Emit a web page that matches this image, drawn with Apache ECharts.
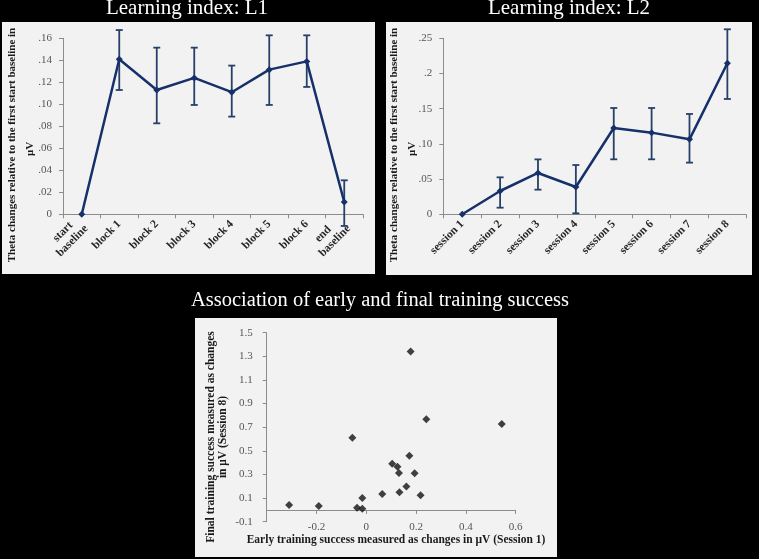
<!doctype html>
<html>
<head>
<meta charset="utf-8">
<title>Learning index</title>
<script src="https://cdn.jsdelivr.net/npm/echarts@6/dist/echarts.min.js"></script>
<style>
  html, body { margin: 0; padding: 0; background: #000; }
  #main { width: 759px; height: 559px; }
</style>
</head>
<body>
<div id="main"></div>
<script type="text/javascript">
// L1: blocks within the first session
var l1Cats = ['start   \nbaseline', 'block 1', 'block 2', 'block 3', 'block 4', 'block 5', 'block 6', 'end     \nbaseline'];
var l1Mean = [0, 0.141, 0.113, 0.124, 0.111, 0.1315, 0.139, 0.0112];
var l1Low = [0, 0.113, 0.0827, 0.0994, 0.0888, 0.0994, 0.1158, -0.0106];
var l1High = [0, 0.1675, 0.1515, 0.1515, 0.1352, 0.1627, 0.1627, 0.0309];
var l1Ticks = ['0', '.02', '.04', '.06', '.08', '.10', '.12', '.14', '.16'];

// L2: sessions
var l2Cats = ['session 1', 'session 2', 'session 3', 'session 4', 'session 5', 'session 6', 'session 7', 'session 8'];
var l2Mean = [0, 0.0331, 0.0587, 0.0388, 0.1226, 0.116, 0.1065, 0.2145];
var l2Low = [0, 0.0094, 0.035, 0.0014, 0.0781, 0.0781, 0.0734, 0.1638];
var l2High = [0, 0.0525, 0.078, 0.070, 0.151, 0.151, 0.1425, 0.2628];
var l2Ticks = ['0', '.05', '.10', '.15', '.2', '.25'];

// early (session 1) vs final (session 8) success
var earlyX = [-0.31, -0.191, -0.056, -0.037, -0.016, -0.016, 0.064, 0.104, 0.125, 0.131, 0.133, 0.161, 0.173, 0.178, 0.194, 0.218, 0.241, 0.544];
var finalY = [0.041, 0.033, 0.611, 0.019, 0.10, 0.01, 0.135, 0.391, 0.366, 0.312, 0.149, 0.197, 0.459, 1.34, 0.31, 0.124, 0.767, 0.727];

var navy = '#16306a';
var barCol = '#27406a';
var axisCol = '#8c8c8c';
var tickTxt = '#555555';
var serif = '"Liberation Serif", "DejaVu Serif", serif';

function pairs(a, b) {
  var out = [];
  for (var i = 0; i < a.length; i++) out.push([a[i], b[i]]);
  return out;
}
function errData(low, high) {
  var out = [];
  for (var i = 0; i < low.length; i++) out.push([i, low[i], high[i]]);
  return out;
}
function errItem(params, api) {
  var lo = api.value(1), hi = api.value(2);
  if (lo === hi) return null;
  var p1 = api.coord([api.value(0), lo]);
  var p2 = api.coord([api.value(0), hi]);
  var w = 3.5;
  var st = { stroke: barCol, lineWidth: 1.8 };
  return {
    type: 'group',
    children: [
      { type: 'line', shape: { x1: p1[0], y1: p1[1], x2: p2[0], y2: p2[1] }, style: st },
      { type: 'line', shape: { x1: p1[0] - w, y1: p1[1], x2: p1[0] + w, y2: p1[1] }, style: st },
      { type: 'line', shape: { x1: p2[0] - w, y1: p2[1], x2: p2[0] + w, y2: p2[1] }, style: st }
    ]
  };
}

function catAxis(idx, cats) {
  return {
    type: 'category', gridIndex: idx, data: cats, boundaryGap: true,
    axisLine: { lineStyle: { color: axisCol, width: 1 } },
    axisTick: { show: true, length: 4, lineStyle: { color: axisCol } },
    axisLabel: { interval: 0, rotate: 45, margin: 8, color: '#262626', fontFamily: serif, fontWeight: 'bold', fontSize: 11.5, lineHeight: 13 }
  };
}
function valAxis(idx, max, step, labels) {
  return {
    type: 'value', gridIndex: idx, min: 0, max: max, interval: step,
    splitLine: { show: false },
    axisLine: { show: true, lineStyle: { color: axisCol } },
    axisTick: { show: true, length: 4, lineStyle: { color: axisCol } },
    axisLabel: {
      color: tickTxt, fontFamily: serif, fontSize: 11, margin: 11,
      formatter: function (v) { return labels[Math.round(v / step)]; }
    }
  };
}

var chart = echarts.init(document.getElementById('main'));
chart.setOption({
  backgroundColor: '#000000',
  animation: false,
  graphic: [
    { type: 'rect', z: -10, shape: { x: 2, y: 22, width: 373, height: 252 }, style: { fill: '#f2f2f2' } },
    { type: 'rect', z: -10, shape: { x: 386, y: 22, width: 366, height: 253 }, style: { fill: '#f2f2f2' } },
    { type: 'rect', z: -10, shape: { x: 195, y: 318, width: 362, height: 239 }, style: { fill: '#f2f2f2' } },
    { type: 'text', x: 187, y: 8, style: { text: 'Learning index: L1', fill: '#fff', font: '21px ' + serif, align: 'center', verticalAlign: 'middle' } },
    { type: 'text', x: 569, y: 8, style: { text: 'Learning index: L2', fill: '#fff', font: '21px ' + serif, align: 'center', verticalAlign: 'middle' } },
    { type: 'text', x: 380, y: 301, style: { text: 'Association of early and final training success', fill: '#fff', font: '20.5px ' + serif, align: 'center', verticalAlign: 'middle' } },
    { type: 'text', x: 12, y: 145, rotation: Math.PI / 2, style: { text: 'Theta changes relative to the first start baseline in', fill: '#1a1a1a', font: 'bold 11px ' + serif, align: 'center', verticalAlign: 'middle' } },
    { type: 'text', x: 30, y: 149, rotation: Math.PI / 2, style: { text: 'μV', fill: '#1a1a1a', font: 'bold 11px ' + serif, align: 'center', verticalAlign: 'middle' } },
    { type: 'text', x: 394, y: 145, rotation: Math.PI / 2, style: { text: 'Theta changes relative to the first start baseline in', fill: '#1a1a1a', font: 'bold 11px ' + serif, align: 'center', verticalAlign: 'middle' } },
    { type: 'text', x: 412, y: 149, rotation: Math.PI / 2, style: { text: 'μV', fill: '#1a1a1a', font: 'bold 11px ' + serif, align: 'center', verticalAlign: 'middle' } },
    { type: 'text', x: 211, y: 437, rotation: Math.PI / 2, style: { text: 'Final training success measured as changes', fill: '#1a1a1a', font: 'bold 11.5px ' + serif, align: 'center', verticalAlign: 'middle' } },
    { type: 'text', x: 223.5, y: 437, rotation: Math.PI / 2, style: { text: 'in μV (Session 8)', fill: '#1a1a1a', font: 'bold 11.5px ' + serif, align: 'center', verticalAlign: 'middle' } },
    { type: 'text', x: 396, y: 540, style: { text: 'Early training success measured as changes in μV (Session 1)', fill: '#1a1a1a', font: 'bold 11.5px ' + serif, align: 'center', verticalAlign: 'middle' } }
  ],
  grid: [
    { left: 63, right: 396, top: 38.3, bottom: 344.7 },
    { left: 443.3, right: 12.7, top: 38.3, bottom: 344.7 },
    { left: 266.7, right: 243.3, top: 332.7, bottom: 37.3 }
  ],
  xAxis: [
    catAxis(0, l1Cats),
    catAxis(1, l2Cats),
    {
      type: 'value', gridIndex: 2, min: -0.4, max: 0.6, interval: 0.2, position: 'bottom',
      splitLine: { show: false },
      axisLine: { show: false, onZero: false },
      axisTick: { show: false },
      axisLabel: {
        showMinLabel: false, color: tickTxt, fontFamily: serif, fontSize: 11, margin: 5, verticalAlign: 'middle',
        formatter: function (v) { return (Math.round(v * 10) / 10).toString(); }
      }
    },
    {
      type: 'value', gridIndex: 2, min: -0.4, max: 0.6, interval: 0.2, position: 'bottom',
      splitLine: { show: false },
      axisLine: { show: true, onZero: true, lineStyle: { color: axisCol } },
      axisTick: { show: true, length: 4, lineStyle: { color: axisCol } },
      axisLabel: { show: false }
    }
  ],
  yAxis: [
    valAxis(0, 0.16, 0.02, l1Ticks),
    valAxis(1, 0.25, 0.05, l2Ticks),
    {
      type: 'value', gridIndex: 2, min: -0.1, max: 1.5, interval: 0.2,
      splitLine: { show: false },
      axisLine: { show: true, onZero: false, lineStyle: { color: axisCol } },
      axisTick: { show: true, length: 4, lineStyle: { color: axisCol } },
      axisLabel: {
        color: tickTxt, fontFamily: serif, fontSize: 11, margin: 14,
        formatter: function (v) { return v.toFixed(1); }
      }
    }
  ],
  series: [
    { type: 'custom', xAxisIndex: 0, yAxisIndex: 0, renderItem: errItem, data: errData(l1Low, l1High), z: 3 },
    {
      type: 'line', xAxisIndex: 0, yAxisIndex: 0, data: l1Mean,
      symbol: 'diamond', symbolSize: 7, itemStyle: { color: navy },
      lineStyle: { color: navy, width: 2.5 }, z: 4
    },
    { type: 'custom', xAxisIndex: 1, yAxisIndex: 1, renderItem: errItem, data: errData(l2Low, l2High), z: 3 },
    {
      type: 'line', xAxisIndex: 1, yAxisIndex: 1, data: l2Mean,
      symbol: 'diamond', symbolSize: 7, itemStyle: { color: navy },
      lineStyle: { color: navy, width: 2.5 }, z: 4
    },
    {
      type: 'scatter', xAxisIndex: 2, yAxisIndex: 2, data: pairs(earlyX, finalY),
      symbol: 'diamond', symbolSize: 8, itemStyle: { color: '#111111' }
    }
  ]
});
</script>
</body>
</html>
